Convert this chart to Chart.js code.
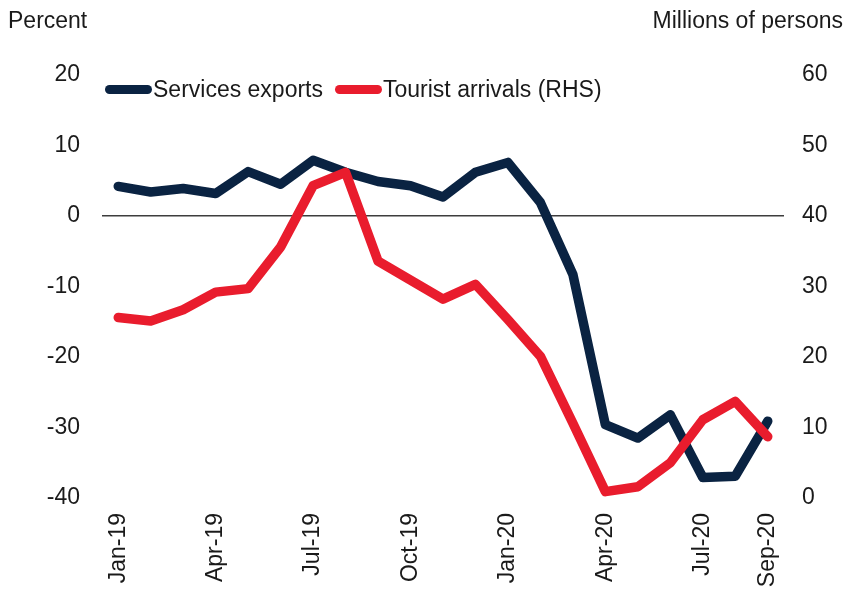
<!DOCTYPE html>
<html>
<head>
<meta charset="utf-8">
<script src="https://cdn.jsdelivr.net/npm/chart.js@4/dist/chart.umd.min.js"></script>
<style>
  html, body { margin: 0; padding: 0; background: #ffffff; }
  #wrap { position: relative; width: 857px; height: 591px; font-family: "Liberation Sans", Arial, sans-serif; color: #1a1a1a; }
  #chart { position: absolute; left: 0; top: 0; }
  .unit { position: absolute; top: 6px; font-size: 23px; line-height: 28px; white-space: nowrap; }
  #unitLeft { left: 8px; }
  #unitRight { right: 14px; }
  #legend { position: absolute; left: 105px; top: 75px; font-size: 23px; line-height: 28px; white-space: nowrap; display: flex; align-items: center; }
  .key { display: inline-block; width: 47px; height: 9px; border-radius: 5px; margin-right: 1px; }
  .item { display: flex; align-items: center; margin-right: 12px; }
</style>
</head>
<body>
<div id="wrap">
  <canvas id="chart" width="857" height="591"></canvas>
  <div class="unit" id="unitLeft">Percent</div>
  <div class="unit" id="unitRight">Millions of persons</div>
  <div id="legend"></div>
</div>
<script>
// Monthly categories
const months = [
  'Jan-19','Feb-19','Mar-19','Apr-19','May-19','Jun-19','Jul-19','Aug-19','Sep-19',
  'Oct-19','Nov-19','Dec-19','Jan-20','Feb-20','Mar-20','Apr-20','May-20','Jun-20',
  'Jul-20','Aug-20','Sep-20'
];
// Labels printed under the axis
const shownMonths = ['Jan-19','Apr-19','Jul-19','Oct-19','Jan-20','Apr-20','Jul-20','Sep-20'];

// Services exports, percent (left axis)
const servicesExports = [
  4.2, 3.4, 3.9, 3.2, 6.3, 4.5, 7.9, 6.2, 4.9,
  4.3, 2.7, 6.2, 7.6, 1.9, -8.3, -29.6, -31.5, -28.2,
  -37.1, -36.9, -29.1
];
// Tourist arrivals, millions of persons (right axis)
const touristArrivals = [
  25.6, 25.1, 26.7, 29.2, 29.7, 35.6, 44.3, 46.2, 33.6,
  30.9, 28.2, 30.3, 25.3, 20.1, 10.6, 0.9, 1.6, 5.0,
  11.1, 13.7, 8.7
];

const seriesNames = ['Services exports', 'Tourist arrivals (RHS)'];
const navy = '#0a2342';
const red = '#e91c2d';
const fontFamily = '"Liberation Sans", Arial, sans-serif';
const textColor = '#1a1a1a';

// Legend row
const legend = document.getElementById('legend');
[[seriesNames[0], navy], [seriesNames[1], red]].forEach(([name, col]) => {
  const item = document.createElement('span');
  item.className = 'item';
  const key = document.createElement('span');
  key.className = 'key';
  key.style.background = col;
  const txt = document.createElement('span');
  txt.textContent = name;
  item.appendChild(key);
  item.appendChild(txt);
  legend.appendChild(item);
});

const tickFont = { family: fontFamily, size: 23 };

new Chart(document.getElementById('chart'), {
  type: 'line',
  data: {
    labels: months,
    datasets: [
      {
        label: seriesNames[0],
        data: servicesExports,
        yAxisID: 'yL',
        borderColor: navy,
        backgroundColor: navy,
        borderWidth: 9.5,
        pointRadius: 0,
        tension: 0,
        borderCapStyle: 'round',
        borderJoinStyle: 'round',
        order: 1
      },
      {
        label: seriesNames[1],
        data: touristArrivals,
        yAxisID: 'yR',
        borderColor: red,
        backgroundColor: red,
        borderWidth: 9.5,
        pointRadius: 0,
        tension: 0,
        borderCapStyle: 'round',
        borderJoinStyle: 'round',
        order: 0
      }
    ]
  },
  options: {
    responsive: false,
    animation: false,
    devicePixelRatio: 1,
    layout: { padding: { top: 75, left: 0, right: 0, bottom: 0 } },
    plugins: {
      legend: { display: false },
      tooltip: { enabled: false },
      title: { display: false }
    },
    scales: {
      x: {
        type: 'category',
        offset: true,
        grid: { display: false, drawTicks: false },
        border: { display: false },
        ticks: {
          autoSkip: false,
          maxRotation: 90,
          minRotation: 90,
          padding: 15,
          color: textColor,
          font: tickFont,
          callback: function (val) {
            const lab = this.getLabelForValue(val);
            return shownMonths.includes(lab) ? lab : '';
          }
        },
        afterFit: (s) => { s.height = 93; }
      },
      yL: {
        position: 'left',
        min: -40,
        max: 20,
        grid: {
          display: true,
          drawTicks: false,
          lineWidth: 1.6,
          color: (ctx) => (ctx.tick && ctx.tick.value === 0 ? '#3d3d3d' : 'rgba(0,0,0,0)')
        },
        border: { display: false },
        ticks: { stepSize: 10, padding: 22, color: textColor, font: tickFont },
        afterFit: (s) => { s.width = 102; }
      },
      yR: {
        position: 'right',
        min: 0,
        max: 60,
        grid: { display: false, drawTicks: false },
        border: { display: false },
        ticks: { stepSize: 10, padding: 18, color: textColor, font: tickFont },
        afterFit: (s) => { s.width = 73; }
      }
    }
  }
});
</script>
</body>
</html>
